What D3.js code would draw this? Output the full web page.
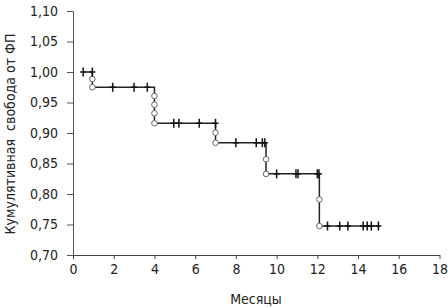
<!DOCTYPE html>
<html>
<head>
<meta charset="utf-8">
<script src="https://cdn.jsdelivr.net/npm/d3@7"></script>
<style>
  body { margin: 0; background: #fff; }
  text { font-family: "DejaVu Sans Condensed", "Liberation Sans Narrow", sans-serif; }
</style>
</head>
<body>
<div id="chart"></div>
<script>
// step levels of the curve and the months where it drops
const levels = [1.00, 0.975, 0.916, 0.884, 0.833, 0.7475];
const dropTimes = [0.95, 4.0, 7.0, 9.48, 12.1];
// event markers (circles) along each drop
const eventMarks = [
    [0.9885, 0.975],
    [0.9607, 0.9464, 0.9323, 0.916],
    [0.9005, 0.884],
    [0.857, 0.833],
    [0.791, 0.7475]
];
// censored observations (months)
const censorTimes = [0.5, 0.95, 1.95, 3.0, 3.65, 4.95, 5.2, 6.2, 7.0, 8.0, 9.0, 9.3, 9.42,
    10.0, 10.95, 11.05, 12.0, 12.08, 12.5, 13.1, 13.5, 14.25, 14.45, 14.65, 15.0];
const xTicks = [0, 2, 4, 6, 8, 10, 12, 14, 16, 18];
const yTicks = [0.70, 0.75, 0.80, 0.85, 0.90, 0.95, 1.00, 1.05, 1.10];

const width = 448, height = 308;
const font = '"DejaVu Sans Condensed", sans-serif';

const svg = d3.select('#chart').append('svg')
    .attr('width', width)
    .attr('height', height);

const x = d3.scaleLinear().domain([0, 18]).range([73, 439.5]);
const y = d3.scaleLinear().domain([0.70, 1.10]).range([255, 11]);

const comma = d => d3.format('.2f')(d).replace('.', ',');

// y axis
const yAxis = svg.append('g')
    .attr('transform', 'translate(' + x(0) + ',0)')
    .call(d3.axisLeft(y).tickValues(yTicks).tickFormat(comma).tickSize(6).tickSizeOuter(0).tickPadding(9));
yAxis.select('.domain').attr('stroke', '#555');
yAxis.selectAll('.tick line').attr('stroke', '#555');
yAxis.selectAll('text').attr('font-size', 14).attr('fill', '#222').attr('font-family', font);

// x axis
const xAxis = svg.append('g')
    .attr('transform', 'translate(0,' + y(0.70) + ')')
    .call(d3.axisBottom(x).tickValues(xTicks).tickSize(4).tickSizeOuter(0).tickPadding(5));
xAxis.select('.domain').attr('stroke', '#444');
xAxis.selectAll('.tick line').attr('stroke', '#444');
xAxis.selectAll('text').attr('font-size', 14).attr('fill', '#222').attr('font-family', font);

// axis titles
svg.append('text')
    .attr('x', 256)
    .attr('y', 304)
    .attr('text-anchor', 'middle')
    .attr('font-size', 14)
    .attr('fill', '#222')
    .text('Месяцы');

svg.append('text')
    .attr('transform', 'translate(15,134) rotate(-90)')
    .attr('text-anchor', 'middle')
    .attr('font-size', 14)
    .attr('fill', '#222')
    .style('white-space', 'pre')
    .text('Кумулятивная  свобода от ФП');

// build step path
const levelAt = t => levels[dropTimes.filter(d => d < t).length];
const start = censorTimes[0];
const end = censorTimes[censorTimes.length - 1];
const pts = [[start, levels[0]]];
dropTimes.forEach((t, i) => {
    pts.push([t, levels[i]]);
    pts.push([t, levels[i + 1]]);
});
pts.push([end, levels[levels.length - 1]]);

const line = d3.line().x(d => x(d[0])).y(d => y(d[1]));

svg.append('path')
    .datum(pts)
    .attr('d', line)
    .attr('fill', 'none')
    .attr('stroke', '#222')
    .attr('stroke-width', 1.5);

// event circles
const circles = [];
dropTimes.forEach((t, i) => eventMarks[i].forEach(v => circles.push({ t: t, v: v })));

svg.selectAll('circle.event')
    .data(circles)
    .enter().append('circle')
    .attr('class', 'event')
    .attr('cx', d => x(d.t))
    .attr('cy', d => y(d.v))
    .attr('r', 2.8)
    .attr('fill', '#fff')
    .attr('stroke', '#666')
    .attr('stroke-width', 1);

// censor marks
const cens = svg.selectAll('g.censor')
    .data(censorTimes)
    .enter().append('g')
    .attr('class', 'censor')
    .attr('transform', d => 'translate(' + x(d) + ',' + y(levelAt(d)) + ')');

cens.append('line')
    .attr('x1', 0).attr('x2', 0).attr('y1', -4.5).attr('y2', 4.5)
    .attr('stroke', '#111').attr('stroke-width', 1.5);
cens.append('line')
    .attr('x1', -3).attr('x2', 3).attr('y1', 0).attr('y2', 0)
    .attr('stroke', '#111').attr('stroke-width', 1.5);
</script>
</body>
</html>
